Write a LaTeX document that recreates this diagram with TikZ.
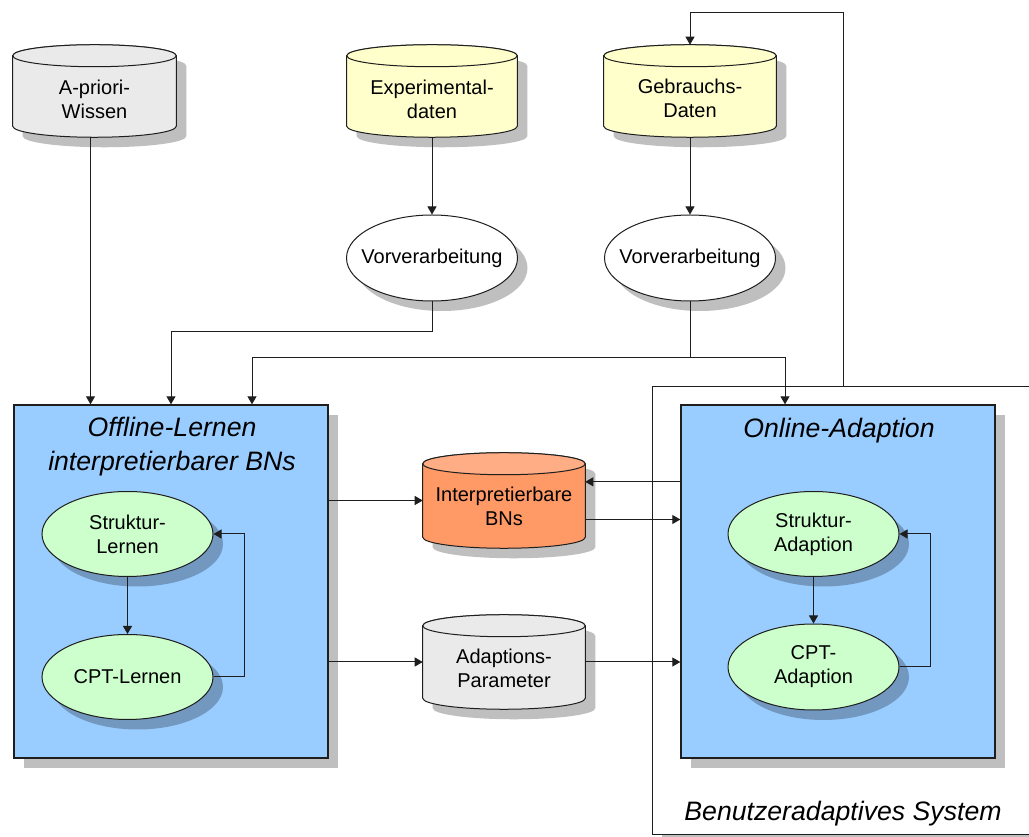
\documentclass[tikz,border=0pt]{standalone}
\usepackage{fontspec}
\setmainfont{Liberation Sans}
\usetikzlibrary{shapes.geometric,shadows,arrows.meta,calc}

\definecolor{boxblue}{HTML}{99CCFF}
\definecolor{procgreen}{HTML}{CCFFCC}
\definecolor{dbyellow}{HTML}{FFFFCC}
\definecolor{dbgrey}{HTML}{EAEAEA}
\definecolor{dborange}{HTML}{FF9966}
\definecolor{dborangetop}{HTML}{FFAD85}
\definecolor{linec}{HTML}{1E1E1E}

\newcommand\lblfont{\fontsize{15}{18}\selectfont}
\newcommand\ttlfont{\fontsize{20}{25.5}\selectfont\itshape}

% cylinder drawn inside the bounding rectangle of a named node
% #1 node name, #2 body colour, #3 lid colour
\newcommand\cylinder[3]{%
  \fill[shad] let \p1=(#1.north west), \p2=(#1.south east), \n1={(\x2-\x1)/2} in
    (\x1+7.5pt,\y1-15.75pt) -- (\x1+7.5pt,\y2+0.75pt)
    arc[start angle=180,end angle=360,x radius={\n1*1pt},y radius=8.25pt]
    -- (\x2+7.5pt,\y1-15.75pt)
    arc[start angle=0,end angle=180,x radius={\n1*1pt},y radius=8.25pt] -- cycle;
  \filldraw[cyl,fill=#2] let \p1=(#1.north west), \p2=(#1.south east), \n1={(\x2-\x1)/2} in
    (\x1,\y1-8.25pt) -- (\x1,\y2+8.25pt)
    arc[start angle=180,end angle=360,x radius={\n1*1pt},y radius=8.25pt]
    -- (\x2,\y1-8.25pt)
    arc[start angle=0,end angle=180,x radius={\n1*1pt},y radius=8.25pt] -- cycle;
  \filldraw[cyl,fill=#3] let \p1=(#1.north west), \p2=(#1.south east), \n1={(\x2-\x1)/2} in
    (\x1+\n1,\y1-8.25pt) ellipse[x radius={\n1*1pt},y radius=8.25pt];
}

\tikzset{
  shad/.style={fill=black,opacity=0.25},
  dshadow/.style={drop shadow={shadow xshift=7.5pt,shadow yshift=-7.5pt,fill=black,opacity=0.25}},
  cyl/.style={draw=linec,line width=0.75pt},
  store/.style={rectangle,inner sep=0pt},
  proc/.style={ellipse,draw=linec,line width=0.75pt,inner sep=0pt,
    minimum width=171*0.75pt,minimum height=85*0.75pt,dshadow},
  panel/.style={rectangle,draw=linec,line width=1pt,fill=boxblue,inner sep=0pt,dshadow},
  txt/.style={font=\lblfont,align=center,inner sep=0pt},
  ttl/.style={font=\ttlfont,align=center,inner sep=0pt},
  link/.style={draw=linec,line width=0.75pt},
  arr/.style={link,-{Triangle[length=6pt,width=6.75pt]}}
}

\begin{document}
\begin{tikzpicture}[x=0.75pt,y=-0.75pt]
\useasboundingbox (0,0) rectangle (1029,837);
\clip (0,0) rectangle (1029,837);

% system frame and the two work panels
\node[rectangle,draw=linec,line width=0.75pt,fill=white,inner sep=0pt,dshadow,
      minimum width=408*0.75pt,minimum height=447*0.75pt] (system) at (856,610.5) {};
\node[panel,minimum width=314*0.75pt,minimum height=353*0.75pt] (offline) at (171,581.5) {};
\node[panel,minimum width=314*0.75pt,minimum height=353*0.75pt] (online) at (838,581.5) {};

% data stores
\node[store,minimum width=163*0.75pt,minimum height=92*0.75pt] (apriori) at (94.5,91) {};
\node[store,minimum width=170*0.75pt,minimum height=92*0.75pt] (expdat) at (432,91) {};
\node[store,minimum width=172*0.75pt,minimum height=92*0.75pt] (gebdat) at (690,91) {};
\node[store,minimum width=162*0.75pt,minimum height=95*0.75pt] (bns) at (504,500.5) {};
\node[store,minimum width=162*0.75pt,minimum height=94*0.75pt] (adapt) at (504,662) {};
\cylinder{apriori}{dbgrey}{dbgrey}
\cylinder{expdat}{dbyellow}{dbyellow}
\cylinder{gebdat}{dbyellow}{dbyellow}
\cylinder{bns}{dborange}{dborangetop}
\cylinder{adapt}{dbgrey}{dbgrey}
\node[txt] at (94.5,99) {A-priori-\\Wissen};
\node[txt] at (432,99) {Experimental-\\daten};
\node[txt] at (690,98) {Gebrauchs-\\Daten};
\node[txt] at (504,506.5) {Interpretierbare\\BNs};
\node[txt] at (504,668) {Adaptions-\\Parameter};

% processing steps
\node[proc,fill=white,minimum height=86*0.75pt] (vor1) at (432,258) {};
\node[proc,fill=white,minimum height=86*0.75pt] (vor2) at (690,258) {};
\node[proc,fill=procgreen] (sl) at (127.5,534) {};
\node[proc,fill=procgreen] (cl) at (127.5,677) {};
\node[proc,fill=procgreen] (sa) at (813.5,534) {};
\node[proc,fill=procgreen,minimum height=86*0.75pt] (ca) at (813.5,667) {};
\node[txt] at (vor1) {Vorverarbeitung};
\node[txt] at (vor2) {Vorverarbeitung};
\node[txt] at (sl) {Struktur-\\Lernen};
\node[txt] at (cl) {CPT-Lernen};
\node[txt] at (sa) {Struktur-\\Adaption};
\node[txt] at (ca) {CPT-\\Adaption};

% titles
\node[ttl,anchor=base] (offT1) at (172,437) {Offline-Lernen};
\node[ttl,anchor=base] (offT2) at (172,471) {interpretierbarer BNs};
\node[ttl,anchor=base] (onT) at (839,438) {Online-Adaption};
\node[ttl,anchor=base] (sysT) at (843,820) {Benutzeradaptives System};

% junctions of the routed connectors
\coordinate (b1) at (171,332);
\coordinate (b2) at (252,358);
\coordinate (b3) at (785,358);
\coordinate (loopTop) at (843,13);
\coordinate (inBN) at ([yshift=14pt]bns.east);
\coordinate (outBN) at ([yshift=-14.25pt]bns.east);

% connectors
\draw[arr] ([xshift=-3pt]apriori.south) -- ([xshift=-3pt]apriori.south |- offline.north);
\draw[arr] (expdat.south) -- (vor1.north);
\draw[arr] (gebdat.south) -- (vor2.north);
\draw[arr] (vor1.south) |- (b1) -- (b1 |- offline.north);
\draw[link] (vor2.south) -- (vor2.south |- b2);
\draw[arr] (vor2.south |- b2) -- (b2) -- (b2 |- offline.north);
\draw[arr] (vor2.south |- b3) -- (b3) -- (b3 |- online.north);
\draw[arr] (loopTop |- system.north) -- (loopTop) -| (gebdat.north);
\draw[arr] (offline.east |- bns.west) -- (bns.west);
\draw[arr] (inBN -| online.west) -- (inBN);
\draw[arr] (outBN) -- (outBN -| online.west);
\draw[arr] (offline.east |- adapt.west) -- (adapt.west);
\draw[arr] (adapt.east) -- (adapt.east -| online.west);
\draw[arr] (sl.south) -- (cl.north);
\draw[arr] (cl.east) -| ([xshift=23.25pt]sl.east) -- (sl.east);
\draw[arr] (sa.south) -- (ca.north);
\draw[arr] (ca.east) -| ([xshift=23.25pt]sa.east) -- (sa.east);
\end{tikzpicture}
\end{document}
